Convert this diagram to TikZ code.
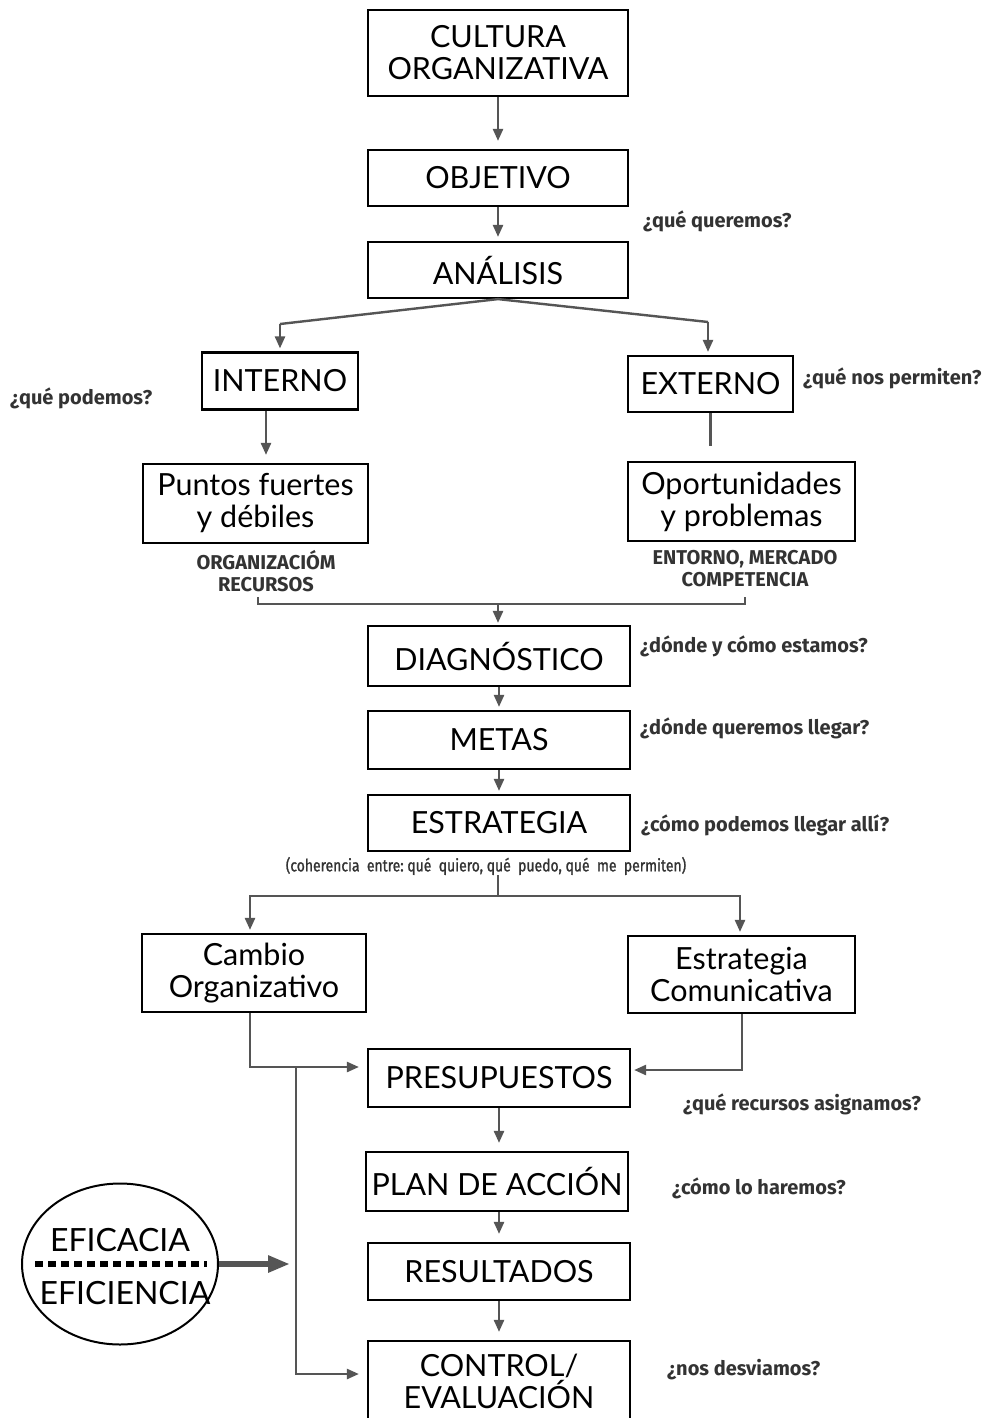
\documentclass[tikz,border=0pt]{standalone}
\usepackage{fontspec}
\setmainfont{Lato}
\newfontfamily\qfont{Fira Sans}
\newfontfamily\condfont[FakeStretch=0.82,FakeBold=1.2]{Fira Sans}
\usetikzlibrary{arrows.meta,shapes.geometric}

\definecolor{linegray}{HTML}{555555}
\definecolor{textgray}{HTML}{333333}

\tikzset{
  box/.style={draw=black, line width=2.2pt, inner sep=0pt, align=center,
    font=\fontsize{30.5}{32}\selectfont},
  conn/.style={draw=linegray, line width=2.4pt, line join=miter},
  arr/.style={conn, -{Triangle[length=12pt,width=10pt]}, shorten >=8pt},
  quest/.style={font=\qfont\bfseries\fontsize{20}{22}\selectfont, text=textgray,
    inner sep=0pt, anchor=west},
  tag/.style={font=\qfont\bfseries\fontsize{20}{22}\selectfont, text=textgray,
    align=center, inner sep=0pt},
  effl/.style={font=\fontsize{32}{34}\selectfont, inner sep=0pt}
}

\begin{document}
\begin{tikzpicture}[x=1pt,y=-1pt]
\fill[white] (0,0) rectangle (992,1418);
\useasboundingbox (0,0) rectangle (992,1418);

% main column
\node[box, minimum width=260, minimum height=86] (cult) at (498,53) {CULTURA\\ORGANIZATIVA};
\node[box, minimum width=260, minimum height=56] (obj) at (498,178) {OBJETIVO};
\node[box, minimum width=260, minimum height=56] (ana) at (498,270) {ANÁLISIS};

% analysis branches
\node[box, minimum width=156, minimum height=57] (int) at (280,381) {INTERNO};
\node[box, minimum width=165, minimum height=56] (ext) at (710.5,384) {EXTERNO};
\node[box, minimum width=225, minimum height=79] (pf) at (255.5,503.5) {Puntos fuertes\\y débiles};
\node[box, minimum width=227, minimum height=79] (op) at (741.5,501.5) {Oportunidades\\y problemas};
\node[tag] (tagint) at (266,571) {ORGANIZACIÓM\\RECURSOS};
\node[tag] (tagext) at (745,569) {ENTORNO, MERCADO\\COMPETENCIA};

\node[box, minimum width=262, minimum height=60] (diag) at (499,656) {DIAGNÓSTICO};
\node[box, minimum width=262, minimum height=58] (metas) at (499,740) {METAS};
\node[box, minimum width=262, minimum height=56] (estr) at (499,823) {ESTRATEGIA};
\node[font=\condfont\fontsize{17}{20}\selectfont, text=textgray, inner sep=0pt] (coh) at (486,866)
  {(coherencia\ \ entre:\ qué\ \ quiero,\ qué\ \ puedo,\ qué\ \ me\ \ permiten)};

\node[box, minimum width=224, minimum height=78] (cambio) at (254,973) {Cambio\\Organizativo};
\node[box, minimum width=227, minimum height=77] (estcom) at (741.5,974.5) {Estrategia\\Comunicativa};

\node[box, minimum width=262, minimum height=58] (pres) at (499,1078) {PRESUPUESTOS};
\node[box, minimum width=262, minimum height=59] (plan) at (497,1181.5) {PLAN DE ACCIÓN};
\node[box, minimum width=262, minimum height=57] (res) at (499,1271.5) {RESULTADOS};
\node[box, minimum width=262, minimum height=80] (ctrl) at (499,1381) {CONTROL/\\EVALUACIÓN};

% guiding questions
\node[quest] (q1) at (643,221) {¿qué queremos?};
\node[quest] (q2) at (10,398) {¿qué podemos?};
\node[quest] (q3) at (803,378) {¿qué nos permiten?};
\node[quest] (q4) at (640,646) {¿dónde y cómo estamos?};
\node[quest] (q5) at (640,728) {¿dónde queremos llegar?};
\node[quest] (q6) at (641,825) {¿cómo podemos llegar allí?};
\node[quest] (q7) at (683,1104) {¿qué recursos asignamos?};
\node[quest] (q8) at (672,1188) {¿cómo lo haremos?};
\node[quest] (q9) at (667,1370) {¿nos desviamos?};

% efficacy / efficiency
\node[draw=black, ellipse, line width=2pt, minimum width=196, minimum height=161] (eff) at (120,1264) {};
\node[effl] (effa) at (120,1240) {EFICACIA};
\node[effl] (effb) at (125,1293) {EFICIENCIA};
\draw[black, line width=5.5pt, dash pattern=on 8pt off 5pt]
  ([xshift=14pt]eff.west) -- ([xshift=-12pt]eff.east);

% connectors
\draw[arr] (cult) -- (obj);
\draw[arr, shorten >=4pt] (obj) -- (ana);

\coordinate (sl) at (280,324);
\coordinate (sr) at (708,322);
\draw[conn] (sl) -- (ana.south) -- (sr);
\draw[arr, shorten >=3pt] (sl) -- (sl |- int.north);
\draw[arr, shorten >=3pt] (sr) -- (sr |- ext.north);

\draw[arr] ([xshift=-14pt]int.south) -- ([xshift=10.5pt]pf.north);
\draw[conn] (ext.south) -- ++(0,33);

\coordinate (bl) at (258,597);
\coordinate (br) at (745,597);
\coordinate (bm) at (498,604);
\draw[conn] (bl) -- (bl |- bm) -- (br |- bm) -- (br);
\draw[arr, shorten >=2pt] (bm) -- (bm |- diag.north);

\draw[arr, shorten >=3pt] (diag) -- (metas);
\draw[arr, shorten >=3pt] (metas) -- (estr);

\coordinate (sp) at (498,896);
\draw[conn] (sp |- coh.south) -- (sp);
\draw[arr, shorten >=3pt] (sp) -| ([xshift=-4pt]cambio.north);
\draw[arr, shorten >=3pt] (sp) -| ([xshift=-1.5pt]estcom.north);

\draw[arr] ([xshift=-4pt]cambio.south) |- ([yshift=11pt]pres.west);
\draw[arr, shorten >=3pt] ([xshift=0.5pt]estcom.south) |- ([yshift=8pt]pres.east);

\coordinate (tap) at (296,1067);
\draw[arr] (tap) |- ([yshift=7pt]ctrl.west);

\draw[arr] (pres.south) -- (pres.south |- plan.north);
\draw[arr] (plan.south -| pres.south) -- (res.north);
\draw[arr] (res) -- (ctrl);

\draw[linegray, line width=5.5pt, -{Triangle[length=22pt,width=16pt]}, shorten >=6pt]
  (eff.east) -- (eff.east -| tap);
\end{tikzpicture}
\end{document}
